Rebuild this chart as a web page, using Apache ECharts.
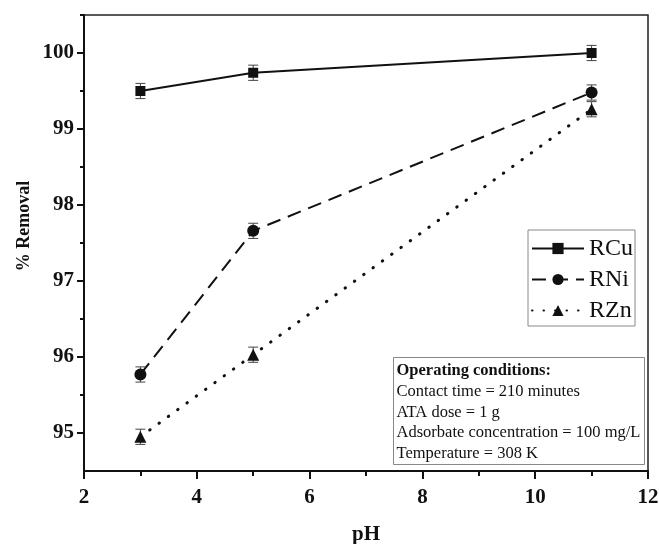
<!DOCTYPE html>
<html>
<head>
<meta charset="utf-8">
<title>% Removal vs pH</title>
<script src="https://cdn.jsdelivr.net/npm/echarts@6/dist/echarts.min.js"></script>
<style>
  html, body { margin: 0; padding: 0; background: #fff; }
  #chart { width: 659px; height: 544px; }
</style>
</head>
<body>
<div id="chart"></div>
<script>
// pH values at which removal was measured
const phValues = [3, 5, 11];

// % removal for each metal
const rCu = [99.50, 99.74, 100.00];
const rNi = [95.77, 97.66, 99.48];
const rZn = [94.95, 96.03, 99.26];

// standard deviation shown as error bars
const errCu = [0.1, 0.1, 0.1];
const errNi = [0.1, 0.1, 0.1];
const errZn = [0.1, 0.1, 0.1];

// axis ticks
const xTicks = [2, 4, 6, 8, 10, 12];
const yTicks = [95, 96, 97, 98, 99, 100];
const yMinorTicks = [95.5, 96.5, 97.5, 98.5, 99.5, 100.5];

// text of the conditions box
const conditionTitle = 'Operating conditions:';
const conditionLines = [
  'Contact time = 210 minutes',
  'ATA dose = 1 g',
  'Adsorbate concentration = 100 mg/L',
  'Temperature = 308 K'
];

const SERIF = '"Liberation Serif", "Times New Roman", serif';
const INK = '#111';

const pairs = (ys) => phValues.map((x, i) => [x, ys[i]]);
const bars = (ys, es) => phValues.map((x, i) => [x, ys[i] - es[i], ys[i] + es[i]]);

// I-shaped error bar with short caps
function renderErrorBar(params, api) {
  const x = api.value(0);
  const lo = api.coord([x, api.value(1)]);
  const hi = api.coord([x, api.value(2)]);
  const half = 5;
  const style = { stroke: '#444', lineWidth: 1, fill: null };
  return {
    type: 'group',
    children: [
      { type: 'line', shape: { x1: lo[0], y1: lo[1], x2: hi[0], y2: hi[1] }, style },
      { type: 'line', shape: { x1: lo[0] - half, y1: lo[1], x2: lo[0] + half, y2: lo[1] }, style },
      { type: 'line', shape: { x1: hi[0] - half, y1: hi[1], x2: hi[0] + half, y2: hi[1] }, style }
    ]
  };
}

const errorSeries = (name, ys, es) => ({
  name,
  type: 'custom',
  renderItem: renderErrorBar,
  data: bars(ys, es),
  encode: { x: 0, y: [1, 2] },
  silent: true,
  z: 1
});

const chart = echarts.init(document.getElementById('chart'), null, { renderer: 'canvas' });

const axisLineStyle = { color: INK, width: 2 };
const tickLabel = { fontFamily: SERIF, fontWeight: 'bold', fontSize: 21, color: INK };

const option = {
  backgroundColor: '#fff',
  animation: false,
  grid: {
    left: 84, top: 15, right: 11, bottom: 73,
    outerBoundsMode: 'none',
    containLabel: false,
    show: true, borderColor: '#222', borderWidth: 1.5, backgroundColor: 'transparent'
  },
  xAxis: {
    type: 'value',
    min: 2, max: 12, interval: 2,
    name: 'pH',
    nameLocation: 'middle',
    nameGap: 53,
    nameTextStyle: { fontFamily: SERIF, fontWeight: 'bold', fontSize: 21, color: INK },
    axisLine: { lineStyle: axisLineStyle },
    axisTick: { length: 8, lineStyle: { color: INK, width: 2 } },
    minorTick: { show: true, splitNumber: 2, length: 5, lineStyle: { color: INK, width: 2 } },
    splitLine: { show: false },
    axisLabel: Object.assign({ margin: 16, customValues: xTicks }, tickLabel)
  },
  yAxis: [
    {
      type: 'value',
      min: 94.5, max: 100.5,
      position: 'left',
      name: '% Removal',
      nameLocation: 'middle',
      nameGap: 51,
      nameMoveOverlap: false,
      nameTextStyle: { fontFamily: SERIF, fontWeight: 'bold', fontSize: 18, color: INK, padding: [0, 0, 0, 34] },
      axisLine: { lineStyle: axisLineStyle },
      axisTick: { length: 7, lineStyle: { color: INK, width: 2 }, customValues: yTicks },
      splitLine: { show: false },
      axisLabel: Object.assign({ margin: 10, customValues: yTicks }, tickLabel)
    },
    {
      // half-unit ticks, shorter than the labelled ones
      type: 'value',
      min: 94.5, max: 100.5,
      position: 'left',
      axisLine: { show: false },
      axisTick: { show: true, length: 4, lineStyle: { color: INK, width: 2 }, customValues: yMinorTicks },
      splitLine: { show: false },
      axisLabel: { show: false }
    }
  ],
  legend: {
    data: ['RCu', 'RNi', 'RZn'],
    orient: 'vertical',
    left: 528, top: 230,
    itemWidth: 52, itemHeight: 14, itemGap: 4,
    padding: [5, 2, 2, 3],
    borderColor: '#888', borderWidth: 1, borderRadius: 0,
    backgroundColor: '#fff',
    textStyle: { fontFamily: SERIF, fontSize: 24, color: INK, lineHeight: 27 }
  },
  series: [
    errorSeries('errCu', rCu, errCu),
    errorSeries('errNi', rNi, errNi),
    errorSeries('errZn', rZn, errZn),
    {
      name: 'RCu', type: 'line', data: pairs(rCu),
      symbol: 'rect', symbolSize: 10,
      itemStyle: { color: INK },
      lineStyle: { color: INK, width: 2, type: 'solid' },
      z: 3
    },
    {
      name: 'RNi', type: 'line', data: pairs(rNi),
      symbol: 'circle', symbolSize: 12,
      itemStyle: { color: INK },
      lineStyle: { color: INK, width: 2, type: [14, 8] },
      z: 3
    },
    {
      name: 'RZn', type: 'line', data: pairs(rZn),
      symbol: 'triangle', symbolSize: 12,
      itemStyle: { color: INK },
      lineStyle: { color: INK, width: 3, type: [0.5, 11], cap: 'round' },
      z: 3
    }
  ],
  graphic: [
    {
      type: 'group',
      left: 393, top: 357,
      children: [
        { type: 'rect', shape: { x: 0, y: 0, width: 251, height: 107 }, style: { fill: '#fff', stroke: '#888', lineWidth: 1 } },
        {
          type: 'text', x: 3, y: 13,
          style: { text: conditionTitle, font: 'bold 16.5px ' + SERIF, fill: INK, verticalAlign: 'middle' }
        }
      ].concat(conditionLines.map((t, i) => ({
        type: 'text', x: 3, y: 34 + i * 20.7,
        style: { text: t, font: '16.5px ' + SERIF, fill: INK, verticalAlign: 'middle' }
      })))
    }
  ]
};

chart.setOption(option);
</script>
</body>
</html>
